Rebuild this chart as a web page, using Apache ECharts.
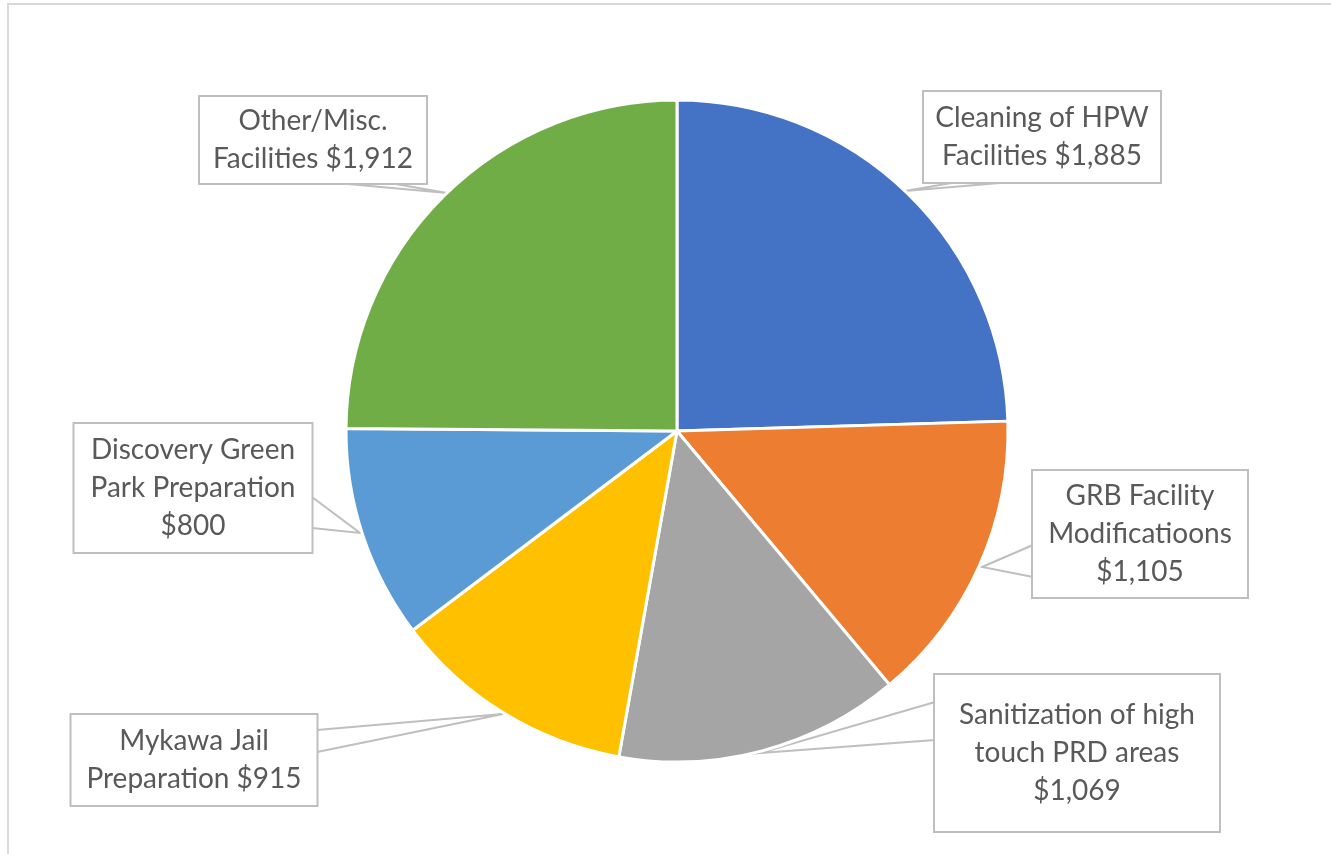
<!DOCTYPE html>
<html>
<head>
<meta charset="utf-8">
<script src="https://cdn.jsdelivr.net/npm/echarts@6/dist/echarts.min.js"></script>
<style>
  html, body { margin: 0; padding: 0; background: #fff; }
  #chart { width: 1331px; height: 854px; }
</style>
</head>
<body>
<div id="chart"></div>
<script>
var CATEGORIES = [
    'Cleaning of HPW\nFacilities',
    'GRB Facility\nModificatioons\n',
    'Sanitization of high\ntouch PRD areas\n',
    'Mykawa Jail\nPreparation',
    'Discovery Green\nPark Preparation\n',
    'Other/Misc.\nFacilities'
];
var VALUES = [1885, 1105, 1069, 915, 800, 1912];
var COLORS = ['#4472C4', '#ED7D31', '#A5A5A5', '#FFC000', '#5B9BD5', '#70AD47'];

// callout boxes: centre, inner width, padding (layout only)
var LABEL_POS = [[1042, 137], [1140, 534], [1077, 753], [194, 760], [193, 488], [313, 140]];
var LABEL_W = [220, 194, 264, 225, 217, 206];
var LABEL_PADV = [7, 6, 21, 7, 7, 5];
var LABEL_PADH = [8, 10, 10, 10, 10, 10];
// wedge callouts: box edge point, tip on the pie, box edge point
var LINE_PTS = [
    [[963, 181], [905, 191], [1023, 181]],
    [[1033, 545], [982, 567], [1033, 577]],
    [[935, 702], [760, 753], [935, 740]],
    [[317, 730], [503, 714], [317, 752]],
    [[312, 497], [360, 533], [312, 528]],
    [[337, 183], [447, 193], [390, 183]]
];

function money(v) {
    return '$' + v.toLocaleString('en-US');
}

var chart = echarts.init(document.getElementById('chart'));

var pieData = CATEGORIES.map(function(name, i) {
    return {
        name: name,
        value: VALUES[i],
        itemStyle: { color: COLORS[i] },
        label: {
            width: LABEL_W[i],
            padding: [LABEL_PADV[i], LABEL_PADH[i], LABEL_PADV[i], LABEL_PADH[i]]
        }
    };
});

chart.setOption({
    animation: false,
    graphic: [{
        type: 'rect',
        shape: { x: 8, y: 4, width: 1340, height: 870 },
        style: { fill: 'none', stroke: '#d9d9d9', lineWidth: 2 },
        silent: true
    }],
    series: [{
        type: 'pie',
        center: [677, 431],
        radius: 331,
        startAngle: 90,
        clockwise: true,
        data: pieData,
        itemStyle: { borderColor: '#fff', borderWidth: 3 },
        label: {
            position: 'outside',
            formatter: function(p) {
                var sep = p.name.charAt(p.name.length - 1) === '\n' ? '' : ' ';
                return p.name + sep + money(p.value);
            },
            fontFamily: 'Lato',
            fontSize: 28,
            lineHeight: 38,
            color: '#595959',
            align: 'center',
            overflow: 'none',
            backgroundColor: '#fff',
            borderColor: '#bfbfbf',
            borderWidth: 2
        },
        labelLine: {
            show: true,
            lineStyle: { color: '#bfbfbf', width: 2 }
        },
        labelLayout: function(params) {
            var i = params.dataIndex;
            return {
                x: LABEL_POS[i][0],
                y: LABEL_POS[i][1],
                align: 'center',
                verticalAlign: 'middle',
                labelLinePoints: LINE_PTS[i]
            };
        }
    }]
});
</script>
</body>
</html>
